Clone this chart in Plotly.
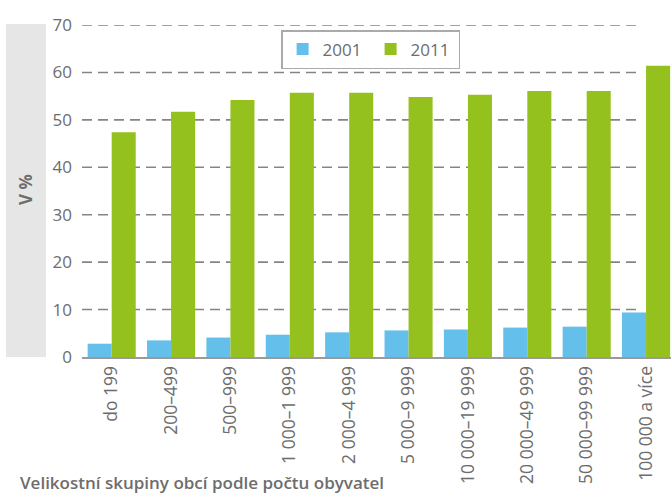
import plotly.graph_objects as go

categories = ["do 199", "200–499", "500–999", "1 000–1 999", "2 000–4 999",
              "5 000–9 999", "10 000–19 999", "20 000–49 999", "50 000–99 999",
              "100 000 a více"]
v2001 = [2.8, 3.5, 4.1, 4.7, 5.2, 5.6, 5.8, 6.2, 6.4, 9.4]
v2011 = [47.4, 51.7, 54.2, 55.7, 55.7, 54.8, 55.3, 56.1, 56.1, 61.4]
yticks = [0, 10, 20, 30, 40, 50, 60, 70]

W, H = 671, 497
L, R, T, B = 82, 0, 25, 140
FONT = "Open Sans, Noto Sans, sans-serif"
GRAY = "#6d6d6d"

fig = go.Figure()
fig.add_trace(go.Bar(name="2001", x=categories, y=v2001, marker_color="#65bfeb",
                     marker_line_width=0))
fig.add_trace(go.Bar(name="2011", x=categories, y=v2011, marker_color="#95c11f",
                     marker_line_width=0))

plot_w = W - L - R
plot_h = H - T - B
base = H - B  # pixel y of value 0


def px_x(p):
    return (p - L) / plot_w


def px_y(p):
    return (base - p) / plot_h


grid_end = px_x(641)

shapes = [
    dict(type="rect", xref="paper", yref="paper",
         x0=px_x(6), x1=px_x(46), y0=0, y1=px_y(24),
         fillcolor="#e6e6e6", line_width=0, layer="below"),
]
for t in yticks[1:]:
    shapes.append(dict(type="line", xref="paper", yref="y", x0=0, x1=grid_end,
                       y0=t, y1=t, line=dict(color="#858585", width=1.6, dash="10px,6px"),
                       layer="below"))

fig.update_layout(
    width=W, height=H,
    margin=dict(l=L, r=R, t=T, b=B, autoexpand=False),
    paper_bgcolor="white", plot_bgcolor="white",
    barmode="group", bargap=0.19, bargroupgap=0,
    font=dict(family=FONT, color=GRAY),
    shapes=shapes,
    xaxis=dict(range=[-0.5, 9.42], tickangle=-90, tickfont=dict(size=17.5, color=GRAY),
               showline=True, linecolor="#9a9a9a", linewidth=2, ticks="",
               showgrid=False, fixedrange=True, automargin=False),
    yaxis=dict(range=[0, 70], tickvals=yticks, tickfont=dict(size=17, color=GRAY),
               showgrid=False, zeroline=False, showline=False, ticks="",
               ticklabelstandoff=9, fixedrange=True, automargin=False),
    legend=dict(orientation="h", x=0.49, y=px_y(30), xanchor="center", yanchor="top",
                bordercolor="#aaaaaa", borderwidth=1.5, bgcolor="white",
                font=dict(size=17, color=GRAY), itemwidth=30,
                entrywidth=43, entrywidthmode="pixels", tracegroupgap=0),
    annotations=[
        dict(text="V %", xref="paper", yref="paper",
             x=px_x(25), y=px_y(190), xanchor="center", yanchor="middle",
             textangle=-90, showarrow=False,
             font=dict(size=17, color=GRAY, weight=700)),
        dict(text="Velikostní skupiny obcí podle počtu obyvatel",
             xref="paper", yref="paper", x=px_x(18), xanchor="left",
             y=px_y(482), yanchor="middle", showarrow=False,
             font=dict(size=17, color=GRAY, weight=600)),
    ],
)

fig.write_html("out.html", config={"displayModeBar": False},
               post_script="document.body.style.margin='0';document.body.style.padding='0';")
